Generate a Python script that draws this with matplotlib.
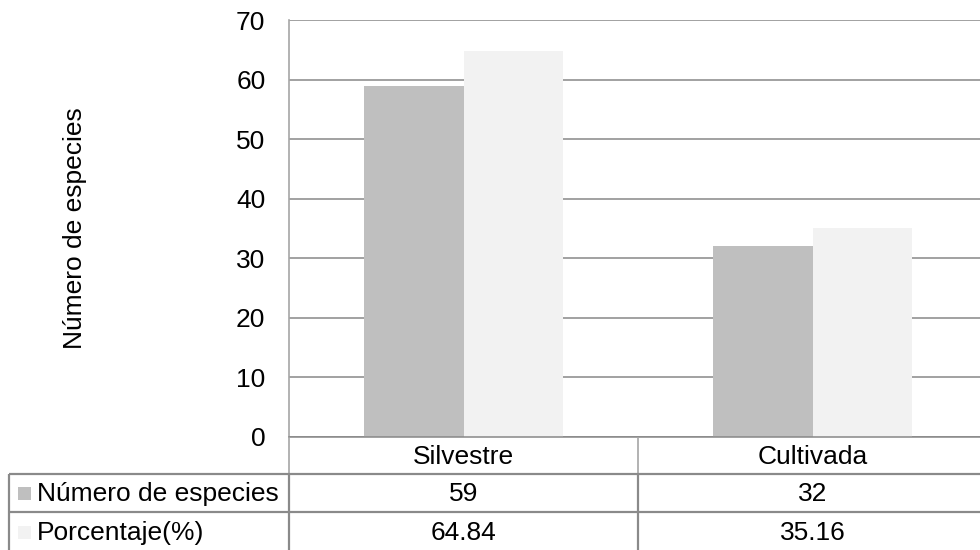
import matplotlib
matplotlib.use("Agg")
import matplotlib.pyplot as plt
import matplotlib.transforms as mtransforms
from matplotlib.lines import Line2D
from matplotlib.patches import Rectangle

# Data
categories = ["Silvestre", "Cultivada"]
series_names = ["Número de especies", "Porcentaje(%)"]
num_especies = [59, 32]
porcentaje = [64.84, 35.16]
num_especies_labels = ["59", "32"]
porcentaje_labels = ["64.84", "35.16"]
y_ticks = [0, 10, 20, 30, 40, 50, 60, 70]
y_label = "Número de especies"

bar_colors = ["#BFBFBF", "#F2F2F2"]
grid_color = "#878787"
axis_color = "#A6A6A6"
table_color = "#8A8A8A"
FS = 19

plt.rcParams['font.family'] = ['Liberation Sans', 'DejaVu Sans']

W, H = 980, 550
fig = plt.figure(figsize=(W / 100, H / 100), dpi=100)


def fy(py):
    return 1 - py / H


def fx(px):
    return px / W


# Plot area (right edge runs past the figure border)
ax = fig.add_axes([fx(289), fy(437), fx(987 - 289), (437 - 20) / H])
ax.set_xlim(-0.5, len(categories) - 0.5)
ax.set_ylim(0, 70)

bar_w = 100 / 350
xs = list(range(len(categories)))
ax.bar([x - bar_w / 2 for x in xs], num_especies, width=bar_w,
       color=bar_colors[0], zorder=2)
ax.bar([x + bar_w / 2 for x in xs], porcentaje, width=bar_w,
       color=bar_colors[1], zorder=2)

ax.set_yticks(y_ticks)
ax.set_yticklabels([str(t) for t in y_ticks], fontsize=FS)
ax.set_xticks([])
ax.tick_params(axis='y', length=0, pad=17)
ax.yaxis.grid(True, color=grid_color, linewidth=1.1, zorder=0)
ax.set_axisbelow(True)
for s in ["top", "right"]:
    ax.spines[s].set_visible(False)
ax.spines["left"].set_color(axis_color)
ax.spines["left"].set_linewidth(1.2)
ax.spines["bottom"].set_color(grid_color)
ax.spines["bottom"].set_linewidth(1.1)

fig.text(fx(75), fy(228), y_label, rotation=90, ha='center', va='center',
         fontsize=FS)

# Data table beneath the plot
blend = mtransforms.blended_transform_factory(ax.transData, fig.transFigure)
row_top, row1, row2, row_bot = 437, 474, 512, 552
x_left_px = 9


def fig_line(xs_, ys_, color, lw):
    fig.add_artist(Line2D(xs_, ys_, color=color, linewidth=lw,
                          transform=fig.transFigure, solid_capstyle='butt'))


def blend_line(xs_, ys_, color, lw):
    fig.add_artist(Line2D(xs_, ys_, color=color, linewidth=lw,
                          transform=blend, solid_capstyle='butt'))


# Header row separators (axis-style)
fig_line([fx(289), fx(289)], [fy(row_top), fy(row1)], axis_color, 1.2)
blend_line([0.5, 0.5], [fy(row_top), fy(row1)], axis_color, 1.2)

# Body grid
for py in (row1, row2):
    fig_line([fx(x_left_px), 1.0], [fy(py), fy(py)], table_color, 1.6)
fig_line([fx(x_left_px), fx(x_left_px)], [fy(row1), fy(row_bot)], table_color, 1.6)
fig_line([fx(289), fx(289)], [fy(row1), fy(row_bot)], table_color, 1.6)
for b in range(len(categories) - 1):
    blend_line([b + 0.5, b + 0.5], [fy(row1), fy(row_bot)], table_color, 1.6)

# Header labels
for i, c in enumerate(categories):
    ax.text(i, fy((row_top + row1) / 2 + 1), c, transform=blend,
            ha='center', va='center', fontsize=FS)

rows = [(series_names[0], num_especies_labels, bar_colors[0], (row1 + row2) / 2),
        (series_names[1], porcentaje_labels, bar_colors[1], (row2 + row_bot) / 2)]
for name, labels, col, yc in rows:
    fig.add_artist(Rectangle((fx(18), fy(yc + 6.5)), 13 / W, 13 / H,
                             facecolor=col, edgecolor='none',
                             transform=fig.transFigure))
    fig.text(fx(37), fy(yc + 1), name, ha='left', va='center', fontsize=FS)
    for i, lab in enumerate(labels):
        ax.text(i, fy(yc + 1), lab, transform=blend, ha='center',
                va='center', fontsize=FS)

fig.savefig("out.png", dpi=100)
